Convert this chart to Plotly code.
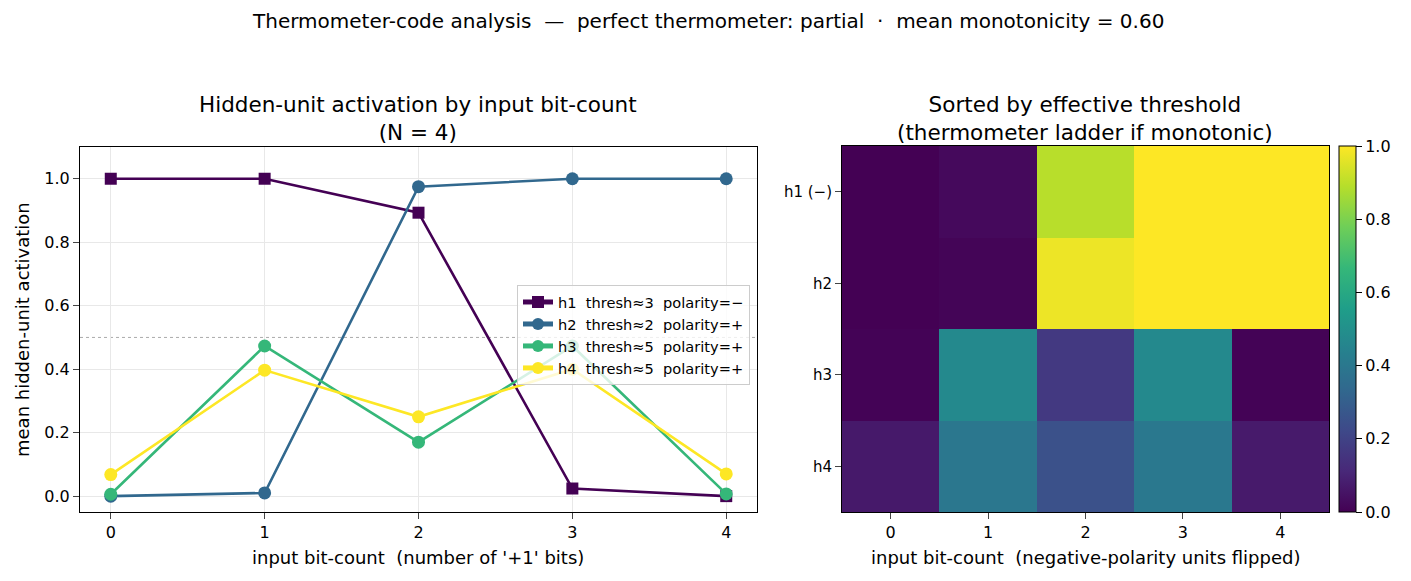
import plotly.graph_objects as go

bit_counts = [0, 1, 2, 3, 4]
unit_names = ["h1", "h2", "h3", "h4"]
thresholds = [3, 2, 5, 5]
polarities = ["\u2212", "+", "+", "+"]
h1 = [1.0, 1.0, 0.893, 0.024, 0.0]
h2 = [0.0, 0.010, 0.975, 1.0, 1.0]
h3 = [0.006, 0.473, 0.170, 0.473, 0.007]
h4 = [0.068, 0.397, 0.250, 0.400, 0.070]
series = [h1, h2, h3, h4]
colors = ["#440154", "#31688e", "#35b779", "#fde725"]
symbols = ["square", "circle", "circle", "circle"]
heat_labels = ["h1 (\u2212)", "h2", "h3", "h4"]
colorbar_ticks = [0.0, 0.2, 0.4, 0.6, 0.8, 1.0]

# heatmap: negative-polarity units flipped (bit-count reversed)
heat_rows = []
for s, p in zip(series, polarities):
    heat_rows.append(list(reversed(s)) if p == "\u2212" else list(s))

W, H = 1411, 581
def px(x):
    return x / W
def py(y):
    return 1 - y / H

font = "DejaVu Sans"
sp = "\u00a0"
TICK = 16
LABEL = 18
TITLE = 21.5
SUPTITLE = 20
LEGEND = 14.6
TL = 6

fig = go.Figure()

for name, th, pol, s, c, sym in zip(unit_names, thresholds, polarities, series, colors, symbols):
    fig.add_trace(go.Scatter(
        x=bit_counts, y=s, mode="lines+markers",
        name=f"{name}{sp} thresh\u2248{th}{sp} polarity={pol}",
        line=dict(color=c, width=2.6),
        marker=dict(color=c, size=13 if sym == "circle" else 12, symbol=sym),
        xaxis="x", yaxis="y",
    ))

fig.add_trace(go.Heatmap(
    z=heat_rows, x=bit_counts, y=heat_labels,
    colorscale="Viridis", zmin=0, zmax=1,
    xaxis="x2", yaxis="y2", showscale=True,
    colorbar=dict(
        x=px(1339), xanchor="left", y=py(512), yanchor="bottom",
        len=(512 - 146) / H, lenmode="fraction", thickness=17,
        thicknessmode="pixels", ypad=0, xpad=0,
        tickvals=colorbar_ticks, ticktext=[f"{v:.1f}" for v in colorbar_ticks],
        ticks="outside", ticklen=TL, tickcolor="black",
        outlinecolor="black", outlinewidth=1,
        tickfont=dict(family=font, size=TICK, color="black"),
    ),
))

ybot = py(512)
ytop = py(147)

fig.update_layout(
    width=W, height=H,
    margin=dict(l=0, r=0, t=0, b=0),
    paper_bgcolor="white", plot_bgcolor="white",
    font=dict(family=font, color="black", size=TICK),
    xaxis=dict(domain=[px(80), px(757)], range=[-0.2, 4.2],
               tickvals=bit_counts, ticks="outside", ticklen=TL,
               showline=True, linecolor="black", mirror=True,
               showgrid=True, gridcolor="#e8e8e8", zeroline=False,
               tickfont=dict(size=TICK)),
    yaxis=dict(domain=[ybot, ytop], range=[-0.05, 1.1],
               tickvals=[0, 0.2, 0.4, 0.6, 0.8, 1.0],
               ticktext=["0.0", "0.2", "0.4", "0.6", "0.8", "1.0"],
               ticks="outside", ticklen=TL,
               showline=True, linecolor="black", mirror=True,
               showgrid=True, gridcolor="#e8e8e8", zeroline=False,
               tickfont=dict(size=TICK)),
    xaxis2=dict(domain=[px(842), px(1329)], range=[-0.5, 4.5],
                tickvals=bit_counts, ticks="outside", ticklen=TL,
                showline=True, linecolor="black", mirror=True,
                showgrid=False, zeroline=False, anchor="y2",
                tickfont=dict(size=TICK)),
    yaxis2=dict(domain=[ybot, py(146)], autorange="reversed",
                ticks="outside", ticklen=TL,
                showline=True, linecolor="black", mirror=True,
                showgrid=False, zeroline=False, anchor="x2",
                tickfont=dict(size=15)),
    legend=dict(x=px(750), xanchor="right", y=py(285), yanchor="top",
                bgcolor="rgba(255,255,255,0.8)", bordercolor="#cccccc",
                borderwidth=1, font=dict(size=LEGEND), tracegroupgap=0,
                itemsizing="constant"),
    shapes=[dict(type="line", xref="x domain", yref="y", x0=0, x1=1,
                 y0=0.5, y1=0.5, line=dict(color="#aaaaaa", width=1, dash="dot"),
                 layer="below")],
    annotations=[
        dict(text=f"Thermometer-code analysis{sp} \u2014{sp} perfect thermometer: partial{sp} \u00b7{sp} mean monotonicity = 0.60",
             x=px(708), y=py(21), xref="paper", yref="paper", showarrow=False,
             xanchor="center", yanchor="middle", font=dict(size=SUPTITLE)),
        dict(text="Hidden-unit activation by input bit-count<br>(N = 4)",
             x=px(418), y=py(118), xref="paper", yref="paper", showarrow=False,
             xanchor="center", yanchor="middle", font=dict(size=TITLE)),
        dict(text="Sorted by effective threshold<br>(thermometer ladder if monotonic)",
             x=px(1085), y=py(118), xref="paper", yref="paper", showarrow=False,
             xanchor="center", yanchor="middle", font=dict(size=TITLE)),
        dict(text=f"input bit-count{sp} (number of '+1' bits)",
             x=px(418), y=py(557), xref="paper", yref="paper", showarrow=False,
             xanchor="center", yanchor="middle", font=dict(size=LABEL)),
        dict(text=f"input bit-count{sp} (negative-polarity units flipped)",
             x=px(1085), y=py(557), xref="paper", yref="paper", showarrow=False,
             xanchor="center", yanchor="middle", font=dict(size=LABEL)),
        dict(text="mean hidden-unit activation", textangle=-90,
             x=px(22), y=py(330), xref="paper", yref="paper", showarrow=False,
             xanchor="center", yanchor="middle", font=dict(size=LABEL)),
    ],
)

fig.write_html("out.html", config={"displayModeBar": False},
               post_script="document.body.style.margin='0px';")
